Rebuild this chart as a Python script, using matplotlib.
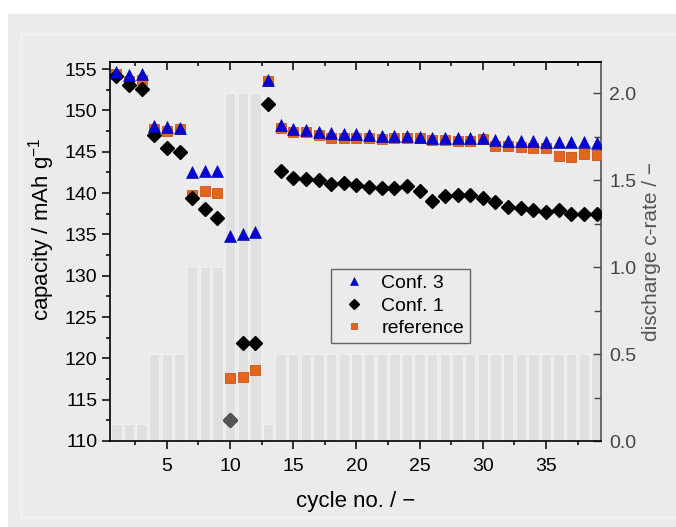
import numpy as np
import matplotlib
matplotlib.use("Agg")
import matplotlib.pyplot as plt
from matplotlib.patches import Rectangle
from matplotlib.ticker import MultipleLocator

plt.rcParams['font.family'] = ['Liberation Sans', 'DejaVu Sans']

# номер цикла
cycles = np.arange(1, 40)

# скорость разряда (c-rate) для каждого цикла
c_rate = [0.1, 0.1, 0.1, 0.5, 0.5, 0.5, 1.0, 1.0, 1.0, 2.0, 2.0, 2.0, 0.1] + [0.5] * 26

# ёмкость, mAh/g
conf3 = [154.7, 154.3, 154.4, 148.1, 148.0, 147.9, 142.6, 142.7, 142.7, 134.8, 135.1, 135.3, 153.7,
         148.2, 147.7, 147.6, 147.4, 147.3, 147.1, 147.1, 147.0, 146.95, 146.9, 146.9, 146.8, 146.7,
         146.7, 146.65, 146.6, 146.6, 146.4, 146.35, 146.3, 146.25, 146.2, 146.2, 146.2, 146.15, 146.1]
conf1 = [154.1, 153.05, 152.6, 147.0, 145.5, 145.0, 139.4, 138.1, 137.0, 112.6, 121.9, 121.9, 150.8,
         142.7, 141.8, 141.7, 141.6, 141.1, 141.25, 141.0, 140.75, 140.6, 140.65, 140.9, 140.2, 139.0,
         139.6, 139.75, 139.7, 139.45, 138.95, 138.3, 138.2, 137.9, 137.65, 138.0, 137.45, 137.45, 137.5]
reference = [154.4, 153.6, 153.7, 147.8, 147.5, 147.8, 139.7, 140.2, 140.05, 117.6, 117.8, 118.6, 153.6,
             147.9, 147.4, 147.4, 147.0, 146.7, 146.6, 146.7, 146.6, 146.5, 146.6, 146.6, 146.6, 146.4,
             146.4, 146.3, 146.3, 146.5, 145.7, 145.7, 145.6, 145.5, 145.45, 144.5, 144.3, 144.7, 144.55]

bg = '#ebebeb'

fig = plt.figure(figsize=(6.76, 5.27), dpi=100)
fig.patch.set_facecolor('white')
fig.patches.append(Rectangle((8 / 676, 0), 1, (527 - 14) / 527, transform=fig.transFigure,
                             facecolor=bg, edgecolor='none', zorder=-10))
fig.patches.append(Rectangle((21 / 676, 10 / 527), 1, (527 - 34 - 10) / 527, transform=fig.transFigure,
                             facecolor='none', edgecolor='#f3f3f3', lw=1, zorder=-9))

ax = fig.add_axes([110 / 676, (527 - 441) / 527, (601 - 110) / 676, (441 - 62) / 527])
ax2 = ax.twinx()
ax.set_zorder(ax2.get_zorder() + 1)
ax.patch.set_visible(False)
ax2.patch.set_visible(False)

# столбики c-rate на правой оси
ax2.bar(cycles, c_rate, width=0.82, color='#e0e0e0', edgecolor='#f0f0f0', linewidth=0.8)
ax2.set_ylim(0, 2.18)
ax2.yaxis.set_major_locator(MultipleLocator(0.5))
ax2.yaxis.set_minor_locator(MultipleLocator(0.25))
ax2.yaxis.set_major_formatter(matplotlib.ticker.FormatStrFormatter('%.1f'))
ax2.tick_params(axis='y', which='major', direction='in', length=6, width=1, colors='#444',
                labelsize=14, pad=6)
ax2.tick_params(axis='y', which='minor', direction='in', length=5, width=1, colors='#444')
ax2.set_ylabel('discharge c-rate / \u2212', fontsize=15, color='#555', labelpad=4)
for s in ['left', 'top', 'bottom']:
    ax2.spines[s].set_visible(False)
ax2.spines['right'].set_color('#555')
ax2.spines['right'].set_linewidth(1.2)

# точки ёмкости
ax.plot(cycles, reference, 's', ms=6.5, color='#e2661b', mec='#c8551a', mew=0.6, label='reference', zorder=3)
ax.plot(cycles, conf1, 'D', ms=7, color='black', label='Conf. 1', zorder=4)
ax.plot(cycles[9], conf1[9], 'D', ms=7, color='#555555', zorder=5)
ax.plot(cycles, conf3, '^', ms=9, color='#0505d5', mec='#0000a0', mew=0.4, label='Conf. 3', zorder=5)

ax.set_xlim(0.5, 39.35)
ax.set_ylim(110, 155.85)
ax.xaxis.set_major_locator(MultipleLocator(5))
ax.xaxis.set_minor_locator(MultipleLocator(2.5))
ax.yaxis.set_major_locator(MultipleLocator(5))
ax.yaxis.set_minor_locator(MultipleLocator(2.5))
ax.tick_params(which='major', direction='out', length=6, width=1.1, labelsize=14, pad=3)
ax.tick_params(which='minor', direction='out', length=3, width=1.1)
ax.tick_params(axis='x', which='major', pad=6)
ax.spines['right'].set_visible(False)
for s in ['left', 'bottom', 'top']:
    ax.spines[s].set_linewidth(1.2)

top = ax.secondary_xaxis('top')
top.xaxis.set_major_locator(MultipleLocator(5))
top.xaxis.set_minor_locator(MultipleLocator(2.5))
top.tick_params(which='major', direction='in', length=6, width=1.1, labeltop=False)
top.tick_params(which='minor', direction='in', length=3, width=1.1)
top.spines['top'].set_linewidth(1.2)

ax.set_xlabel('cycle no. / \u2212', fontsize=16, labelpad=12)
ax.set_ylabel('capacity / mAh g$^{\\mathregular{-1}}$', fontsize=16)
ax.yaxis.set_label_coords(-0.108, 0.56)

handles, labels = ax.get_legend_handles_labels()
order = [2, 1, 0]
leg = ax.legend([handles[i] for i in order], [labels[i] for i in order],
                loc='upper left', bbox_to_anchor=(0.43, 0.48), fontsize=14,
                frameon=True, fancybox=False, facecolor=bg, edgecolor='#444',
                markerscale=0.7, handlelength=1.8, handletextpad=0.5,
                borderpad=0.3, labelspacing=0.25)
leg.get_frame().set_linewidth(1.0)

plt.savefig('out.png', dpi=100)
